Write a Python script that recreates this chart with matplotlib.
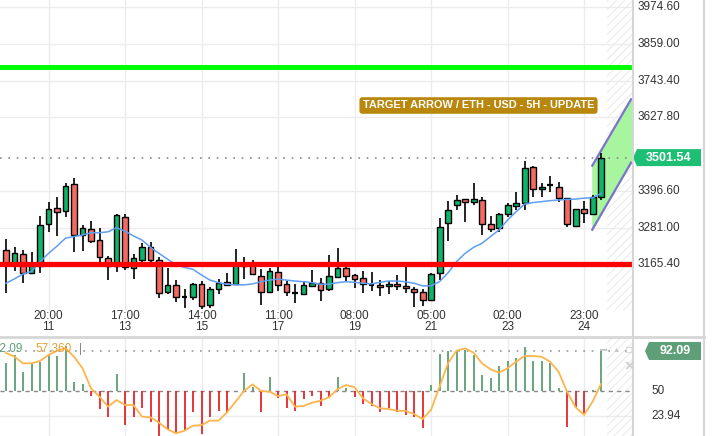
import matplotlib
matplotlib.use('Agg')
import matplotlib.pyplot as plt
import matplotlib.transforms as mtransforms
from matplotlib.patches import Rectangle, Polygon
from matplotlib.lines import Line2D

plt.rcParams['font.family'] = ['Liberation Sans', 'DejaVu Sans']
plt.rcParams['hatch.linewidth'] = 0.7

# ---------------- data ----------------
opens = [3211, 3170, 3198, 3137, 3160, 3292, 3342, 3332, 3418, 3257,
         3278, 3242, 3185, 3159, 3314, 3153, 3178, 3219, 3178, 3077,
         3100, 3063, 3062, 3103, 3038, 3087, 3109, 3104, 3160, 3164,
         3130, 3078, 3143, 3103, 3077, 3072, 3098, 3106, 3087, 3127,
         3153, 3131, 3122, 3101, 3100, 3097, 3103, 3098, 3087, 3078,
         3053, 3137, 3295, 3351, 3370, 3361, 3367, 3293, 3280, 3323,
         3349, 3358, 3471, 3402, 3415, 3410, 3374, 3286, 3339, 3324,
         3377]
highs = [3245, 3220, 3211, 3205, 3318, 3362, 3378, 3421, 3438, 3288,
         3301, 3280, 3192, 3324, 3325, 3198, 3234, 3236, 3188, 3154,
         3117, 3088, 3107, 3113, 3094, 3118, 3138, 3213, 3188, 3180,
         3150, 3153, 3157, 3113, 3103, 3114, 3147, 3122, 3194, 3217,
         3167, 3135, 3144, 3140, 3116, 3114, 3132, 3156, 3095, 3087,
         3139, 3311, 3365, 3383, 3371, 3421, 3379, 3319, 3328, 3360,
         3394, 3491, 3475, 3421, 3444, 3424, 3375, 3340, 3366, 3384,
         3515]
lows = [3075, 3145, 3107, 3135, 3139, 3268, 3254, 3316, 3205, 3209,
        3233, 3157, 3116, 3141, 3148, 3119, 3174, 3169, 3059, 3072,
        3047, 3027, 3053, 3024, 3027, 3072, 3098, 3101, 3121, 3133,
        3038, 3076, 3083, 3065, 3045, 3070, 3095, 3050, 3083, 3122,
        3114, 3090, 3075, 3082, 3066, 3072, 3085, 3075, 3030, 3035,
        3050, 3116, 3240, 3337, 3300, 3352, 3257, 3267, 3267, 3316,
        3337, 3337, 3379, 3379, 3393, 3361, 3282, 3285, 3297, 3322,
        3368]
closes = [3168, 3201, 3139, 3167, 3289, 3339, 3329, 3412, 3257, 3279,
          3238, 3188, 3160, 3320, 3156, 3185, 3219, 3178, 3075, 3101,
          3063, 3061, 3103, 3033, 3087, 3106, 3101, 3162, 3170, 3135,
          3078, 3144, 3101, 3080, 3076, 3100, 3106, 3084, 3129, 3153,
          3130, 3119, 3104, 3099, 3093, 3103, 3097, 3090, 3078, 3053,
          3135, 3282, 3336, 3367, 3363, 3370, 3293, 3276, 3324, 3351,
          3360, 3468, 3402, 3410, 3414, 3374, 3293, 3339, 3326, 3377,
          3501.54]
ma_values = [3106, 3120, 3135, 3143, 3174, 3200, 3223, 3248, 3253, 3258,
             3265, 3265, 3268, 3281, 3270, 3255, 3242, 3219, 3200, 3182,
             3164, 3156, 3150, 3132, 3116, 3108, 3103, 3101, 3101, 3104,
             3111, 3116, 3119, 3116, 3113, 3111, 3108, 3103, 3103, 3108,
             3111, 3109, 3106, 3104, 3109, 3113, 3113, 3111, 3106, 3098,
             3098, 3111, 3139, 3174, 3200, 3219, 3232, 3253, 3274, 3305,
             3331, 3355, 3360, 3363, 3366, 3368, 3370, 3371, 3374, 3375,
             3389]
osc_values = [79.1, 87.9, 69.7, 79.1, 80.8, 87.9, 86.8, 97.3, 59.2, 57.4,
              45.1, 30.7, 22.3, 67.9, 14.2, 22.3, 31.8, 17.7, 2.7, 9.0,
              5.5, 9.0, 28.2, 4.8, 22.3, 29.0, 28.2, 50.5, 68.6, 54.2,
              28.2, 64.4, 42.3, 31.8, 29.0, 41.3, 45.1, 34.2, 42.6, 64.4,
              53.2, 44.0, 36.3, 34.2, 27.6, 31.8, 28.2, 24.8, 23.0, 10.8,
              56.3, 88.9, 92.4, 93.1, 93.1, 87.9, 66.8, 63.4, 76.3, 81.9,
              84.4, 96.0, 81.9, 81.9, 79.8, 52.8, 11.8, 32.9, 26.5, 51.1,
              92.09]
signal_values = [90.0, 86.1, 79.1, 79.1, 81.6, 87.9, 92.4, 94.9, 86.1, 73.9,
                 52.8, 44.0, 33.5, 40.5, 35.3, 35.3, 23.0, 22.3, 16.7, 9.7,
                 5.5, 8.2, 13.5, 14.2, 18.8, 18.8, 27.6, 38.7, 50.0, 57.0,
                 50.0, 49.3, 44.7, 46.5, 33.5, 34.2, 37.7, 39.8, 43.4, 51.8,
                 56.3, 53.9, 42.3, 36.3, 31.8, 31.1, 29.3, 29.0, 25.8, 20.5,
                 30.0, 54.5, 79.1, 92.4, 94.9, 90.3, 79.1, 72.8, 69.3, 73.9,
                 80.8, 86.8, 86.8, 86.1, 80.8, 70.3, 49.3, 32.9, 24.8, 38.7,
                 57.36]

time_labels = ['20:00', '17:00', '14:00', '11:00', '08:00', '05:00', '02:00', '23:00']
date_labels = ['11', '13', '15', '17', '19', '21', '23', '24']
label_idx = [5, 14, 23, 32, 41, 50, 59, 68]
price_ticks = [3974.60, 3859.00, 3743.40, 3627.80, 3396.60, 3281.00, 3165.40]
resistance = 3786.7
support = 3167.4
last_price = 3501.54
osc_last = 92.09
osc_signal_last = 57.360
osc_ticks = [50, 23.94]
channel_x = [68.9, 73.6]
channel_upper = [3473.0, 3688.2]
channel_lower = [3271.5, 3488.7]
title = 'TARGET ARROW / ETH - USD - 5H - UPDATE'

# ---------------- layout ----------------
W, H = 715, 436
fig = plt.figure(figsize=(W / 100, H / 100), dpi=100)
fig.patch.set_facecolor('white')


def fx(px):
    return px / W


def fy(py):
    return 1 - py / H


ax = fig.add_axes([0, fy(310), fx(633), 310 / H])
axi = fig.add_axes([0, 0, fx(633), 97 / H])

XMIN, XMAX = -0.706, 73.76
ax.set_xlim(XMIN, XMAX)
ax.set_ylim(3021.9, 3997.6)
axi.set_xlim(XMIN, XMAX)
axi.set_ylim(2.66, 104.7)
for a in (ax, axi):
    for s in a.spines.values():
        s.set_visible(False)
    a.set_xticks([])
    a.set_yticks([])
    a.patch.set_alpha(0)

GRID = '#ececec'
for p in price_ticks:
    ax.axhline(p, color=GRID, lw=1, zorder=0)
for i in label_idx:
    ax.axvline(i, color=GRID, lw=1, zorder=0)
    axi.axvline(i, color=GRID, lw=1, zorder=0)
axi.axhline(osc_ticks[1], color=GRID, lw=1, zorder=0)

# hatched future zone
for a in (ax, axi):
    a.axvspan(70.7, XMAX, facecolor='none', edgecolor='#eaeaea', hatch='////', lw=0, zorder=0)

# channel
ax.fill_between(channel_x, channel_lower, channel_upper, color='#a8f5a0', lw=0, zorder=1)
ax.plot(channel_x, channel_upper, color='#7a74c9', lw=1.6, zorder=2, solid_capstyle='butt')
ax.plot(channel_x, channel_lower, color='#7a74c9', lw=1.6, zorder=2, solid_capstyle='butt')

# last price dotted
ax.axhline(last_price, color='#8a8a8a', lw=1.2, ls=(0, (1, 4)), zorder=1)

# candles
GREEN = '#10b36a'
RED = '#f26a62'
bw = 0.7
for i, (o, h, l, c) in enumerate(zip(opens, highs, lows, closes)):
    ax.vlines(i, l, h, color='black', lw=1.2, zorder=3)
    if abs(c - o) < 3:
        ax.hlines((o + c) / 2, i - bw / 2, i + bw / 2, color='black', lw=1.6, zorder=4)
    else:
        col = GREEN if c >= o else RED
        ax.add_patch(Rectangle((i - bw / 2, min(o, c)), bw, abs(c - o), facecolor=col,
                               edgecolor='black', lw=1.0, zorder=4))

# moving average
ax.plot(range(len(ma_values)), ma_values, color='#5f9ef0', lw=1.1, zorder=5)

# support / resistance
ax.axhline(resistance, color='#00ff00', lw=3.6, zorder=6)
ax.axhline(support, color='#ff0000', lw=3.8, zorder=6)

# indicator
for i, v in enumerate(osc_values):
    axi.vlines(i, 50, v, color=('#5c9f72' if v >= 50 else '#e5252b'), lw=1.3, zorder=2)
axi.plot(range(len(signal_values)), signal_values, color='#fdb54e', lw=1.3, zorder=3)
axi.axhline(osc_last, color='#999999', lw=1.2, ls=(0, (1, 4)), zorder=1)
axi.axhline(50, color='#888888', lw=1.0, ls=(0, (3, 3)), zorder=1)

# ---------------- text ----------------
TXT = '#333333'
blend_main = mtransforms.blended_transform_factory(fig.transFigure, ax.transData)
for p in price_ticks:
    ax.text(fx(638), p, f'{p:.2f}', transform=blend_main, fontsize=8.5, color=TXT,
            va='center', ha='left', clip_on=False)
blend_ind = mtransforms.blended_transform_factory(fig.transFigure, axi.transData)
for t in osc_ticks:
    axi.text(fx(651), t, f'{t:g}', transform=blend_ind, fontsize=8.5, color=TXT,
             va='center', ha='left', clip_on=False)

blend_x = mtransforms.blended_transform_factory(ax.transData, fig.transFigure)
for i, tl, dl in zip(label_idx, time_labels, date_labels):
    ax.text(i, fy(316), tl, transform=blend_x, fontsize=8.5, color=TXT, ha='center', va='center', clip_on=False)
    ax.text(i, fy(327), dl, transform=blend_x, fontsize=8.5, color=TXT, ha='center', va='center', clip_on=False)

# title box
fig.text(fx(478.5), fy(105.5), title, fontsize=7.9, fontweight='bold', color='white',
         ha='center', va='center',
         bbox=dict(boxstyle='round,pad=0.3,rounding_size=0.25', facecolor='#b8870c', edgecolor='none'))

# separators
fig.add_artist(Line2D([fx(633), fx(633)], [0, 1], color='#d6d6d6', lw=1.5, transform=fig.transFigure))
fig.add_artist(Line2D([fx(704), fx(704)], [0, 1], color='#d6d6d6', lw=1.5, transform=fig.transFigure))
fig.add_artist(Line2D([0, fx(704)], [fy(337), fy(337)], color='#d6d6d6', lw=2, transform=fig.transFigure))

# price badges (pixel coordinates)
fig.canvas.draw()
ident = mtransforms.IdentityTransform()


def badge(x0, x1, yd, half, color, text, fs):
    pts = [(x0 - 4, yd), (x0, yd + half), (x1, yd + half), (x1, yd - half), (x0, yd - half)]
    fig.add_artist(Polygon(pts, closed=True, facecolor=color, edgecolor='none', transform=ident))
    fig.text(fx((x0 + x1) / 2), yd / H, text, fontsize=fs, fontweight='bold', color='white',
             ha='center', va='center')


yd_main = ax.transData.transform((0, last_price))[1]
badge(637, 701, yd_main, 8.5, '#1dbf74', f'{last_price:.2f}', 9)
yd_ind = axi.transData.transform((0, osc_last))[1]
badge(649, 701, yd_ind, 9, '#5e9f78', f'{osc_last:.2f}', 9)

# indicator legend (first value is partly cut by the left edge, as in the source)
fig.text(fx(-6.5), fy(349), f'{osc_last:.2f}', fontsize=8.5, color='#5e9f78', ha='left', va='center')
fig.text(fx(35), fy(349), f'{osc_signal_last:.3f}', fontsize=8.5, color='#e0a03c', ha='left', va='center')
fig.text(fx(79), fy(349), '|', fontsize=8.5, color='#888888', ha='left', va='center')

# small panel icons
fig.text(fx(629), fy(367), '\u00d7', fontsize=12, fontweight='bold', color='#d0d0d0',
         ha='center', va='center', zorder=10)
fig.text(fx(616), fy(350), '\u25b2', fontsize=5, color='#c8c8c8', ha='center', va='center', zorder=10)
fig.text(fx(629), fy(350), '\u25a1', fontsize=7, color='#c8c8c8', ha='center', va='center', zorder=10)
fig.text(fx(603), fy(349), '\u25ac', fontsize=5, color='#c8c8c8', ha='center', va='center', zorder=10)

fig.savefig('out.png', dpi=100, facecolor='white')
